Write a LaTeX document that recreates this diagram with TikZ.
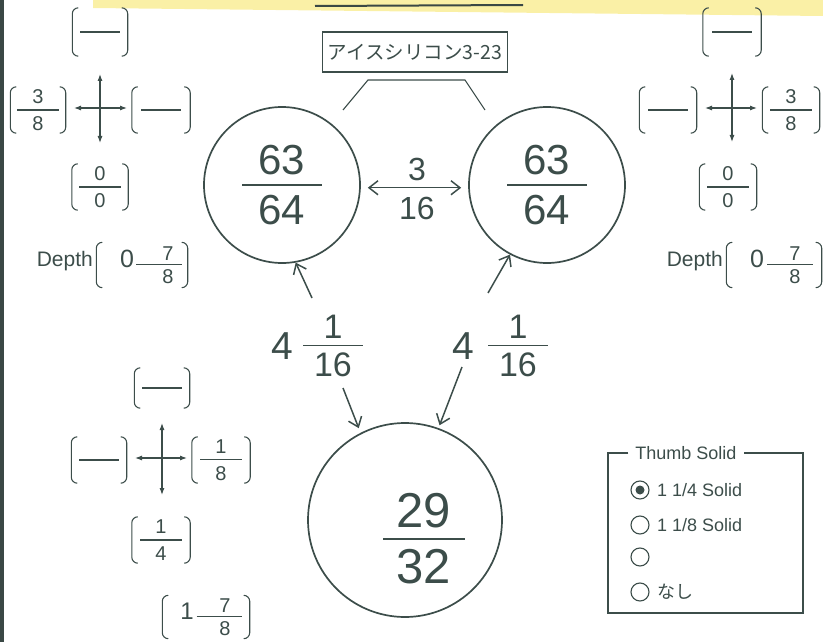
\documentclass[tikz,border=0pt]{standalone}
\usepackage{fontspec}
\setmainfont{Liberation Sans}
\newfontfamily\jpfont{Noto Sans CJK JP}
\usetikzlibrary{arrows.meta}
\definecolor{ink}{HTML}{3C4D4A}
\definecolor{band}{HTML}{FAF0A6}
\definecolor{edge}{HTML}{3A4845}
\newcommand\myfr[4]{\vbox{\offinterlineskip\halign{\hfil##\hfil\cr #2\cr\noalign{\kern#1}\rule{#4}{1.1pt}\cr\noalign{\kern#1}#3\cr}}}
\newcommand\dbar{\rule{40pt}{1.1pt}}
\newcommand\sm{\fontsize{20}{22}\selectfont}
\newcommand\brk[1]{%
  \draw[brkline] ([xshift=6pt]#1.north west) -- (#1.north west) -- (#1.south west) -- ([xshift=6pt]#1.south west);
  \draw[brkline] ([xshift=-6pt]#1.north east) -- (#1.north east) -- (#1.south east) -- ([xshift=-6pt]#1.south east);}
\tikzset{
  brkline/.style={ink, line width=1.1pt, rounded corners=6pt},
  grp/.style={minimum height=46pt, font=\sm},
  crs/.style={ink, line width=1.1pt, {Latex[length=7pt,width=5pt]}-{Latex[length=7pt,width=5pt]}},
  conn/.style={ink, line width=1.5pt, -{Straight Barb[length=9pt,width=14pt]}},
  circ/.style={circle, draw=ink, line width=1.7pt},
  radio/.style={circle, draw=ink, line width=1.1pt, minimum size=18pt},
  rtext/.style={anchor=west, font=\fontsize{18}{20}\selectfont},
}
\begin{document}
\begin{tikzpicture}[x=1pt,y=-1pt, every node/.style={text=ink, inner sep=0pt}]
\useasboundingbox (0,0) rectangle (823,642);
% scan artefacts: yellow band, top rule, left edge
\fill[band] (93,0) -- (823,0) -- (823,16) -- (93,8) -- cycle;
\draw[edge, line width=2pt] (315,6) -- (523,5);
\fill[edge] (0,0) rectangle (4,642);

% ---------- top-left group ----------
\node[grp, minimum width=55pt, minimum height=48pt] (tlT) at (100,32) {\dbar};
\node[grp, minimum width=55pt] (tlL) at (38,110) {\myfr{6pt}{3}{8}{42pt}};
\node[grp, minimum width=58pt] (tlR) at (161,110) {\dbar};
\node[grp, minimum width=56pt] (tlB) at (100,187) {\myfr{6pt}{0}{0}{42pt}};
\node[anchor=base east, font=\fontsize{21}{24}\selectfont] (tlDt) at (93,266) {Depth};
\node[grp, minimum width=91pt, minimum height=45pt] (tlD) at (142,265) {};
\node[font=\fontsize{25}{28}\selectfont] (tlD0) at (127,259) {0};
\node[font=\sm] (tlDf) at (159,265) {\myfr{4pt}{\kern18pt 7}{\kern18pt 8}{46pt}};
\brk{tlT}\brk{tlL}\brk{tlR}\brk{tlB}\brk{tlD}
\coordinate (tlN) at (100,74); \coordinate (tlS) at (100,143);
\coordinate (tlW) at (74,108); \coordinate (tlE) at (127,108);
\draw[crs] (tlN) -- (tlS);
\draw[crs] (tlW) -- (tlE);

% ---------- top-right group ----------
\node[grp, minimum width=58pt, minimum height=48pt] (trT) at (732,32) {\dbar};
\node[grp, minimum width=57pt] (trL) at (668,110) {\dbar};
\node[grp, minimum width=57pt] (trR) at (791,110) {\myfr{6pt}{3}{8}{42pt}};
\node[grp, minimum width=57pt] (trB) at (728,187) {\myfr{6pt}{0}{0}{42pt}};
\node[anchor=base east, font=\fontsize{21}{24}\selectfont] (trDt) at (723,266) {Depth};
\node[grp, minimum width=95pt, minimum height=45pt] (trD) at (774,265) {};
\node[font=\fontsize{25}{28}\selectfont] (trD0) at (757,259) {0};
\node[font=\sm] (trDf) at (790,265) {\myfr{4pt}{\kern10pt 7}{\kern10pt 8}{46pt}};
\brk{trT}\brk{trL}\brk{trR}\brk{trB}\brk{trD}
\coordinate (trN) at (732,73); \coordinate (trS) at (732,142);
\coordinate (trW) at (705,108); \coordinate (trE) at (757,108);
\draw[crs] (trN) -- (trS);
\draw[crs] (trW) -- (trE);

% ---------- bottom-left group ----------
\node[grp, minimum width=55pt, minimum height=40pt] (blT) at (162,388) {\dbar};
\node[grp, minimum width=55pt] (blL) at (99,460) {\dbar};
\node[grp, minimum width=58pt] (blR) at (221,460) {\myfr{6pt}{1}{8}{42pt}};
\node[grp, minimum width=58pt] (blB) at (161,540) {\myfr{6pt}{1}{4}{42pt}};
\node[grp, minimum width=87pt, minimum height=43pt] (blD) at (206,617) {};
\node[font=\fontsize{24}{27}\selectfont] (blD1) at (187,611) {1};
\node[font=\sm] (blDf) at (219,617) {\myfr{4pt}{\kern12pt 7}{\kern12pt 8}{45pt}};
\brk{blT}\brk{blL}\brk{blR}\brk{blB}\brk{blD}
\coordinate (blN) at (162,423); \coordinate (blS) at (162,495);
\coordinate (blW) at (135,458); \coordinate (blE) at (187,458);
\draw[crs] (blN) -- (blS);
\draw[crs] (blW) -- (blE);

% ---------- label box ----------
\node[draw=ink, line width=1.3pt, minimum width=185pt, minimum height=40pt,
      font=\jpfont\fontsize{19.5}{22}\selectfont] (lab) at (415,52) {アイスシリコン3-23};
\coordinate (k1) at (343,110); \coordinate (k2) at (368,80);
\coordinate (k3) at (465,80);  \coordinate (k4) at (485,110);
\draw[ink, line width=1.1pt] (k1) -- (k2) -- (k3) -- (k4);

% ---------- circles ----------
\node[circ, minimum size=156pt, font=\fontsize{42}{46}\selectfont] (cL) at (282,185) {\myfr{10pt}{63}{64}{80pt}};
\node[circ, minimum size=156pt, font=\fontsize{42}{46}\selectfont] (cR) at (547,185) {\myfr{10pt}{63}{64}{80pt}};
\node[circ, minimum size=194pt] (cB) at (405,520) {};
\node[font=\fontsize{49}{52}\selectfont] (cBt) at (424,539) {\myfr{10pt}{29}{32}{82pt}};

\draw[conn, {Straight Barb[length=9pt,width=14pt]}-{Straight Barb[length=9pt,width=14pt]},
      shorten <=7pt, shorten >=7pt] (cL.-2) -- (cR.182);
\node[font=\fontsize{32}{36}\selectfont] (d3) at (417,169) {3};
\node[font=\fontsize{32}{36}\selectfont] (d16) at (417,208) {16};

% ---------- 4 1/16 labels ----------
\node[font=\fontsize{39}{42}\selectfont] (lF4) at (282,346) {4};
\node[font=\fontsize{34}{38}\selectfont] (lFf) at (333,346) {\myfr{7pt}{1}{16}{60pt}};
\node[font=\fontsize{39}{42}\selectfont] (rF4) at (463,346) {4};
\node[font=\fontsize{34}{38}\selectfont] (rFf) at (518,346) {\myfr{7pt}{1}{16}{60pt}};

\coordinate (aLu) at (312,298);
\coordinate (aLd) at (343,388);
\coordinate (aRu) at (488,293);
\coordinate (aRd) at (462,367);
\draw[conn] (aLu) -- (cL.-80);
\draw[conn, shorten >=5pt] (aLd) -- (cB.117);
\draw[conn] (aRu) -- (cR.-118);
\draw[conn, shorten >=3pt] (aRd) -- (cB.70);

% ---------- Thumb Solid box ----------
\node[font=\fontsize{18}{20}\selectfont] (tsT) at (686,453) {Thumb Solid};
\draw[ink, line width=1.3pt] ([xshift=-7pt]tsT.west) -- (608,453) -- (608,613) -- (803,613) -- (803,453) -- ([xshift=7pt]tsT.east);
\node[radio] (r1) at (640,490) {};
\node[circle, fill=ink, minimum size=9pt] (r1d) at (r1) {};
\node[radio] (r2) at (640,525) {};
\node[radio] (r3) at (640,557) {};
\node[radio] (r4) at (640,592) {};
\node[rtext] (t1) at (657,490) {1 1/4 Solid};
\node[rtext] (t2) at (657,525) {1 1/8 Solid};
\node[rtext, font=\jpfont\fontsize{18}{20}\selectfont] (t4) at (657,592) {なし};
\end{tikzpicture}
\end{document}
